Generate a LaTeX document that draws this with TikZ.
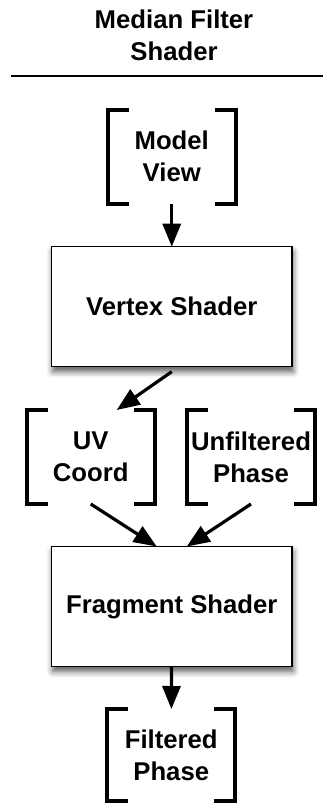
\documentclass[tikz,border=0pt]{standalone}
\usepackage{fontspec}
\setmainfont{Liberation Sans}
\usepackage{tikz}
\usetikzlibrary{arrows.meta,shadows.blur}

\begin{document}
\begin{tikzpicture}[x=0.5pt,y=-0.5pt,
          every node/.style={font=\fontsize{12.85}{16}\selectfont\bfseries,
            align=center,inner sep=0pt,outer sep=0pt},
          stage/.style={draw,line width=0.65pt,fill=white,
            minimum width=120.25pt,minimum height=60pt,
            blur shadow={shadow xshift=0.6pt,shadow yshift=-2.5pt,
              shadow blur radius=3pt,shadow opacity=65}},
          data/.style={minimum width=64pt,minimum height=47pt},
          brk/.style={line width=1.8pt,line join=miter},
          flow/.style={line width=1.6pt,-{Triangle[length=11.5pt,width=9pt]}}]
        \useasboundingbox (0,0) rectangle (323,803);
        \node (title) at (174,35)      {Median Filter\\Shader};
        \draw[line width=1pt] (11,76) -- (323,76);
        \node[data]  (mv)   at (171.75,156.75) {Model\\View};
        \node[stage] (vert) at (171.75,306.7)  {Vertex Shader};
        \node[data]  (uv)   at (90.75,457)     {UV\\Coord};
        \node[data]  (unf)  at (251,457)       {Unfiltered\\Phase};
        \node[stage] (frag) at (171.75,606.5)  {Fragment Shader};
        \node[data,minimum height=46pt] (flt) at (171.25,755) {Filtered\\Phase};
        \foreach \n in {mv,uv,unf,flt} {
          \draw[brk] ([xshift=10.5pt]\n.north west) -- (\n.north west)
            -- (\n.south west) -- ([xshift=10.5pt]\n.south west);
          \draw[brk] ([xshift=-10.5pt]\n.north east) -- (\n.north east)
            -- (\n.south east) -- ([xshift=-10.5pt]\n.south east);
        }
        \draw[flow] (mv)--(vert);
        \draw[flow] ([yshift=-2.5pt]vert.south)--([xshift=13pt]uv.north);
        \draw[flow] (uv.south)--([xshift=-7.5pt]frag.north);
        \draw[flow] (unf.south)--([xshift=7.5pt]frag.north);
        \draw[flow] (frag)--(flt);
      \end{tikzpicture}
\end{document}
